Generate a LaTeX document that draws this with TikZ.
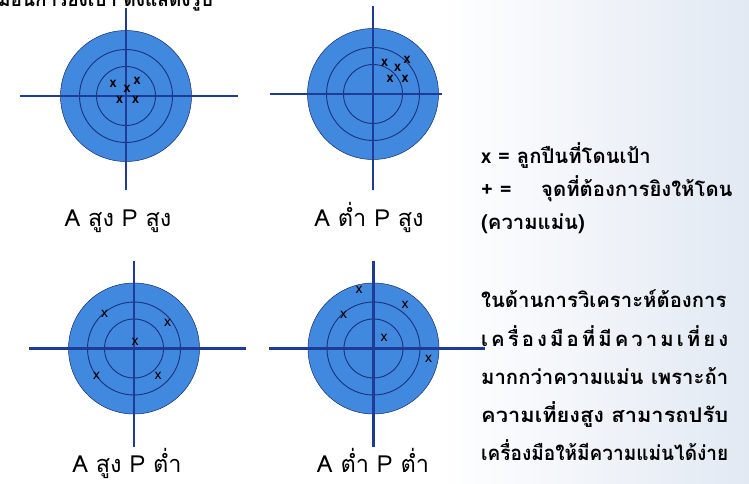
\documentclass[tikz,border=0pt]{standalone}
\usepackage{fontspec}
\setmainfont[Script=Thai]{Loma}
\begin{document}
\begin{tikzpicture}[x=1pt,y=-1pt]
\definecolor{tfill}{RGB}{65,137,222}
\definecolor{tline}{RGB}{30,60,150}
\definecolor{tring}{RGB}{28,48,125}
\definecolor{bgblue}{RGB}{226,233,243}
\tikzset{
  axisline/.style={draw=tline,line width=2.3pt},
  ringline/.style={draw=tring,line width=0.9pt},
  rimline/.style={draw=tline!70!black,line width=0.5pt},
  hitbold/.style={font=\bfseries\fontsize{14}{14}\selectfont,inner sep=0pt,text height=1ex,text depth=0pt},
  hitthin/.style={font=\fontsize{14}{14}\selectfont,inner sep=0pt,text height=1ex,text depth=0pt},
  lab/.style={font=\fontsize{23.5}{26}\selectfont,anchor=base,inner sep=0pt},
  info/.style={font=\bfseries\fontsize{20.3}{23}\selectfont,anchor=base west,inner sep=0pt},
}
\newcommand\drawtarget[6]{%
  \fill[tfill] (#1,#2) circle[radius=65.5];
  \draw[rimline] (#1,#2) circle[radius=65.5];
  \draw[ringline] (#1,#2) circle[radius=46.5];
  \draw[ringline] (#1,#2) circle[radius=29.5];
  \draw[axisline] (#3,#2) -- (#4,#2);
  \draw[axisline] (#1,#5) -- (#1,#6);
}
\useasboundingbox (0,0) rectangle (749,483);
\begin{scope}
\clip (0,0) rectangle (749,483);
\shade[left color=white,right color=bgblue] (440,0) rectangle (749,483);
\node[font=\bfseries\fontsize{19}{22}\selectfont,anchor=base west,inner sep=0pt] (intro) at (-21,6) {เหมือนการยิงเป้า ดังแสดงรูป};

% top-left: A high P high
\drawtarget{126}{96}{20}{238}{8}{190}
\node[hitbold] (h11) at (113,85) {x};
\node[hitbold] (h12) at (137,82) {x};
\node[hitbold] (h13) at (127,90) {x};
\node[hitbold] (h14) at (119.5,101) {x};
\node[hitbold] (h15) at (135.5,101) {x};
\node[lab] (l1) at (118,226) {A สูง P สูง};

% top-middle: A low P high
\drawtarget{373}{94}{270}{442}{6}{190}
\node[hitbold] (h21) at (384.5,64) {x};
\node[hitbold] (h22) at (397.5,68.5) {x};
\node[hitbold] (h23) at (407,61) {x};
\node[hitbold] (h24) at (390,79.5) {x};
\node[hitbold] (h25) at (405,79.5) {x};
\node[lab] (l2) at (369,226) {A ต่ำ P สูง};

% bottom-left: A high P low
\drawtarget{134}{348.5}{29}{246}{261}{447}
\node[hitthin] (h31) at (104.5,315) {x};
\node[hitthin] (h32) at (167.5,323.5) {x};
\node[hitthin] (h33) at (135,342.5) {x};
\node[hitthin] (h34) at (96.5,377) {x};
\node[hitthin] (h35) at (158,377) {x};
\node[lab] (l3) at (127,472) {A สูง P ต่ำ};

% bottom-middle: A low P low
\drawtarget{373.5}{348.5}{269}{485}{261}{447}
\node[hitthin] (h41) at (359,290.5) {x};
\node[hitthin] (h42) at (405,305.5) {x};
\node[hitthin] (h43) at (343.5,315.5) {x};
\node[hitthin] (h44) at (384,339) {x};
\node[hitthin] (h45) at (428.5,359.5) {x};
\node[lab] (l4) at (373,472) {A ต่ำ P ต่ำ};

% legend
\node[info] (k1) at (481,163) {x = ลูกปืนที่โดนเป้า};
\node[info] (k2a) at (481,196) {+ =};
\node[info] (k2b) at (541,196) {จุดที่ต้องการยิงให้โดน};
\node[info] (k3) at (481,229) {(ความแม่น)};

% paragraph
\node[info] (p1) at (481,307) {\makebox[247pt][s]{ในด้านการวิเคราะห์ต้องการ}};
\node[info] (p2) at (481,346) {\makebox[247pt][s]{เ\hfill ค\hfill รื่\hfill อ\hfill ง\hfill มื\hfill อ\hfill ที่\hfill มี\hfill ค\hfill ว\hfill า\hfill ม\hfill เ\hfill ที่\hfill ย\hfill ง}};
\node[info] (p3) at (481,384) {\makebox[247pt][s]{มากกว่าความแม่น เพราะถ้า}};
\node[info] (p4) at (481,422) {\resizebox{247pt}{\height}{ความเที่ยงสูง สามารถปรับ}};
\node[info] (p5) at (481,460) {\resizebox{247pt}{\height}{เครื่องมือให้มีความแม่นได้ง่าย}};
\end{scope}
\end{tikzpicture}
\end{document}
